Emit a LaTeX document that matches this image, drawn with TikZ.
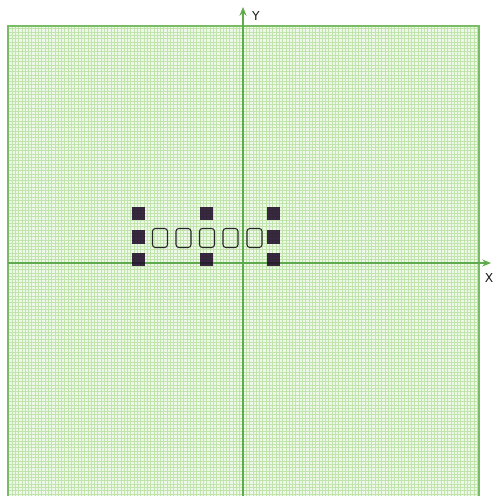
\documentclass[tikz,border=0pt]{standalone}
\usepackage{fontspec}
\setmainfont{DejaVu Sans}
\usetikzlibrary{arrows.meta}
\definecolor{gridbg}{RGB}{238,248,232}
\definecolor{gridln}{RGB}{192,228,172}
\definecolor{axisln}{RGB}{96,170,78}
\definecolor{frameln}{RGB}{120,188,100}
\definecolor{blockfill}{RGB}{32,12,42}
\tikzset{
  block/.style={draw=none, fill=blockfill, fill opacity=0.88, minimum width=13.5*0.02cm, minimum height=13.5*0.02cm, inner sep=0pt},
  ring/.style={draw=black!85, line width=0.6pt, rounded corners=1.6pt, minimum width=15*0.02cm, minimum height=19*0.02cm, inner sep=0pt},
  axislabel/.style={font=\fontsize{7}{8}\selectfont, text=black!90, inner sep=0pt}
}

\begin{document}
\begin{tikzpicture}[x=0.02cm, y=-0.02cm]
\useasboundingbox (0,0) rectangle (497,496);
% background and grid
\fill[gridbg] (8,26) rectangle (479,496);
\begin{scope}
  \clip (8,26) rectangle (479,496);
  \draw[gridln, line width=0.45pt, step=3.3*0.02cm, shift={(243,263)}]
    (-240,-240) grid (240,240);
\end{scope}
\draw[frameln, line width=0.9pt] (8,496) -- (8,26) -- (479,26) -- (479,496);
% axes
\coordinate (xl) at (8,263);
\coordinate (xr) at (491,263);
\coordinate (yb) at (243,496);
\coordinate (yt) at (243,7);
\draw[axisln, line width=0.6pt, -{Stealth[length=5pt, width=4pt]}] (xl) -- (xr);
\draw[axisln, line width=0.6pt, -{Stealth[length=5pt, width=4pt]}] (yb) -- (yt);
\node[axislabel] (xlab) at (489,278) {X};
\node[axislabel] (ylab) at (256,16) {Y};
% blocks
\node[block] (b1) at (138.5,213.5) {};
\node[block] (b2) at (138.5,237) {};
\node[block] (b3) at (138.5,259.5) {};
\node[block] (b4) at (206.5,213.5) {};
\node[block] (b5) at (206.5,259.5) {};
\node[block] (b6) at (273.5,213.5) {};
\node[block] (b7) at (273.5,237) {};
\node[block] (b8) at (273.5,259.5) {};
% rings
\node[ring] (r1) at (160,238) {};
\node[ring] (r2) at (183.5,238) {};
\node[ring] (r3) at (207,238) {};
\node[ring] (r4) at (230.5,238) {};
\node[ring] (r5) at (254.5,238) {};
\end{tikzpicture}
\end{document}
